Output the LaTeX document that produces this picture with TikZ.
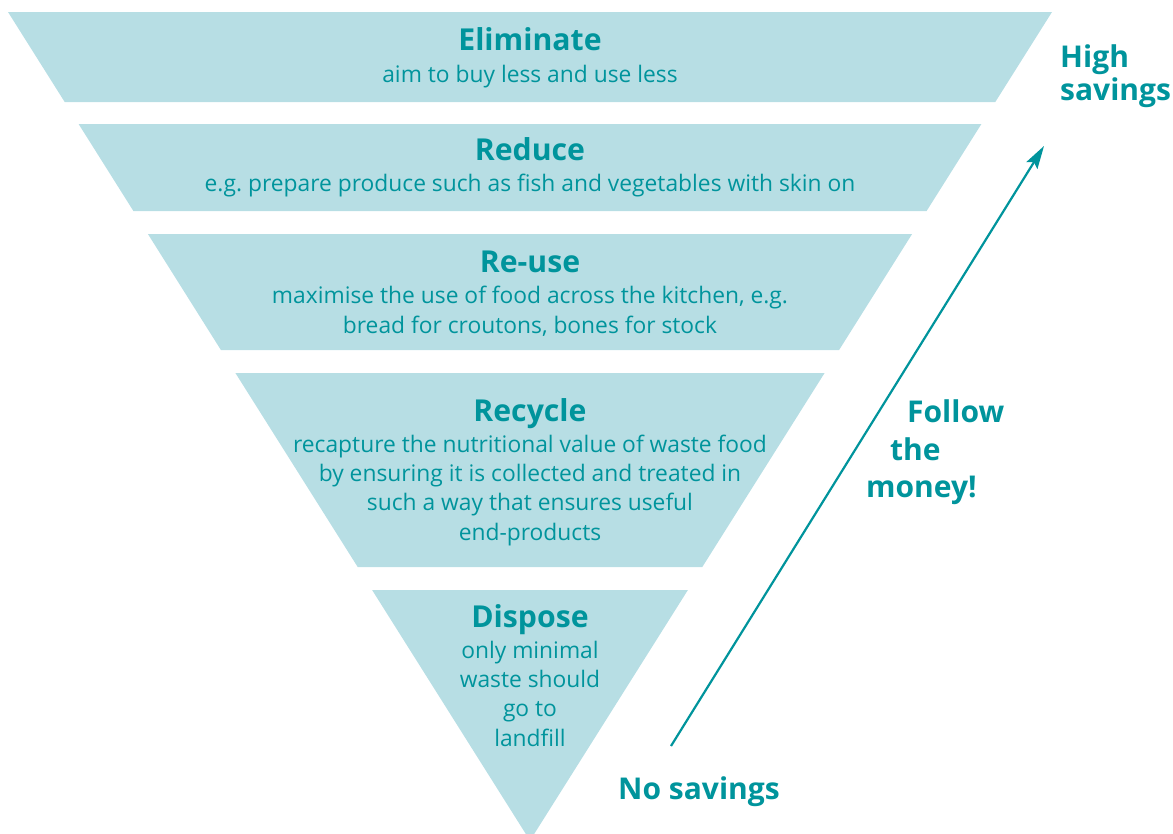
\documentclass[tikz,border=0pt]{standalone}
\usepackage{fontspec}
\setmainfont{Open Sans}
\frenchspacing
\usetikzlibrary{arrows.meta}
\definecolor{bandfill}{HTML}{B7DEE4}
\definecolor{tealtxt}{HTML}{00949C}
\begin{document}
\begin{tikzpicture}[x=1pt,y=-1pt,
  band/.style={fill=bandfill,draw=none},
  title/.style={text=tealtxt,font=\fontsize{30.2}{36}\selectfont\bfseries,anchor=base,inner sep=0pt},
  body/.style={text=tealtxt,font=\fontsize{22.8}{29.3}\selectfont,anchor=base,inner sep=0pt,align=center},
  side/.style={text=tealtxt,font=\fontsize{30}{36}\selectfont\bfseries,anchor=base west,inner sep=0pt},
  arr/.style={draw=tealtxt,line width=2.2pt,-{Stealth[length=23pt,width=13pt,inset=4pt]}}]
\useasboundingbox (0,0) rectangle (1173,833);
\begin{scope}
\clip (0,0) rectangle (1173,833);
\fill[band] (8,12) -- (1052,12) -- (995.3,102) -- (64.7,102) -- cycle;
\fill[band] (78.6,124) -- (981.4,124) -- (926.6,211) -- (133.4,211) -- cycle;
\fill[band] (147.9,234) -- (912.1,234) -- (839.1,350) -- (220.9,350) -- cycle;
\fill[band] (235.4,373) -- (824.6,373) -- (702.3,567) -- (357.7,567) -- cycle;
\fill[band] (372.1,590) -- (687.9,590) -- (530,840.6) -- cycle;
\end{scope}

\node[title] (t1) at (530,50) {Eliminate};
\node[body]  (b1) at (530,82) {aim to buy less and use less};
\node[title] (t2) at (530,160) {Reduce};
\node[body]  (b2) at (530,191) {e.g. prepare produce such as fish and vegetables with skin on};
\node[title] (t3) at (530,272) {Re-use};
\node[body]  (b3) at (530,333) {maximise the use of food across the kitchen, e.g.\\bread for croutons, bones for stock};
\node[title] (t4) at (530,421) {Recycle};
\node[body]  (b4) at (530,540) {recapture the nutritional value of waste food\\by ensuring it is collected and treated in\\such a way that ensures useful\\end-products};
\node[title] (t5) at (530,627) {Dispose};
\node[body]  (b5) at (530,746) {only minimal\\waste should\\go to\\landfill};

\node[side] (hs1) at (1060,67) {High};
\node[side] (hs2) at (1060,100) {savings};
\node[side] (fm1) at (907,422) {Follow};
\node[side] (fm2) at (890,460) {the};
\node[side] (fm3) at (866,497) {money!};
\node[side] (ns) at (618,799) {No savings};

\coordinate (arrS) at (671,746);
\coordinate (arrE) at (1044,146);
\draw[arr] (arrS) -- (arrE);
\end{tikzpicture}
\end{document}
